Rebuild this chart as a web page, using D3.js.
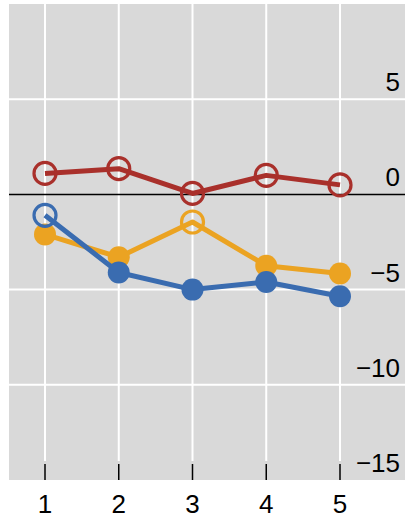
<!DOCTYPE html>
<html><head><meta charset="utf-8">
<script src="https://cdn.jsdelivr.net/npm/d3@7"></script>
<style>html,body{margin:0;padding:0;background:#fff;}svg{display:block;}</style>
</head><body>
<svg id="chart" width="405" height="516"></svg>
<script>
const categories = [1, 2, 3, 4, 5];
const yTicks = [5, 0, -5, -10, -15];
const redValues = [1.1, 1.35, 0.05, 1.0, 0.5];
const redOpen = [true, true, true, true, true];
const orangeValues = [-2.1, -3.3, -1.45, -3.75, -4.15];
const orangeOpen = [false, false, true, false, false];
const blueValues = [-1.1, -4.1, -5.0, -4.6, -5.35];
const blueOpen = [true, false, false, false, false];

const series = [
  {name: "orange", color: "#eba322", values: orangeValues, open: orangeOpen},
  {name: "blue", color: "#3a6cb0", values: blueValues, open: blueOpen},
  {name: "red", color: "#a9302b", values: redValues, open: redOpen}
];

const svg = d3.select("#chart");
const plot = {left: 9, right: 405, top: 4, bottom: 480};
const x = d3.scaleLinear().domain([1, 5]).range([45, 340]);
const y = d3.scaleLinear().domain([-15, 10]).range([plot.bottom, plot.top]);

svg.append("rect").attr("x", plot.left).attr("y", plot.top)
  .attr("width", plot.right - plot.left).attr("height", plot.bottom - plot.top)
  .attr("fill", "#d9d9d9");

// horizontal gridlines
svg.append("g").selectAll("line").data(yTicks.filter(d => d !== 0 && d !== -15)).join("line")
  .attr("x1", plot.left).attr("x2", plot.right)
  .attr("y1", d => y(d)).attr("y2", d => y(d))
  .attr("stroke", "#fff").attr("stroke-width", 2);

// vertical gridlines
svg.append("g").selectAll("line").data(categories).join("line")
  .attr("x1", d => x(d)).attr("x2", d => x(d))
  .attr("y1", plot.top).attr("y2", 461)
  .attr("stroke", "#fff").attr("stroke-width", 2);

// ticks
svg.append("g").selectAll("line").data(categories).join("line")
  .attr("x1", d => x(d)).attr("x2", d => x(d))
  .attr("y1", 464).attr("y2", plot.bottom)
  .attr("stroke", "#000").attr("stroke-width", 1.5);

// zero line
svg.append("line").attr("x1", plot.left).attr("x2", plot.right)
  .attr("y1", y(0)).attr("y2", y(0)).attr("stroke", "#000").attr("stroke-width", 1.5);

// y labels
svg.append("g").selectAll("text").data(yTicks).join("text")
  .attr("x", 400).attr("y", d => y(d) - 8)
  .attr("text-anchor", "end")
  .attr("font-family", "Liberation Sans, Arial, sans-serif").attr("font-size", 26)
  .attr("fill", "#000")
  .text(d => d < 0 ? "\u2212" + Math.abs(d) : String(d));

// x labels
svg.append("g").selectAll("text").data(categories).join("text")
  .attr("x", d => x(d)).attr("y", 513)
  .attr("text-anchor", "middle")
  .attr("font-family", "Liberation Sans, Arial, sans-serif").attr("font-size", 26)
  .attr("fill", "#000")
  .text(d => String(d));

const line = d3.line().x((d, i) => x(categories[i])).y(d => y(d));

series.forEach(s => {
  const g = svg.append("g");
  g.append("path").datum(s.values).attr("d", line)
    .attr("fill", "none").attr("stroke", s.color).attr("stroke-width", 5)
    .attr("stroke-linejoin", "round");
  g.selectAll("circle").data(s.values).join("circle")
    .attr("cx", (d, i) => x(categories[i])).attr("cy", d => y(d))
    .attr("r", 11)
    .attr("fill", (d, i) => s.open[i] ? "none" : s.color)
    .attr("stroke", (d, i) => s.open[i] ? s.color : "none")
    .attr("stroke-width", 3.2);
});
</script>
</body></html>
